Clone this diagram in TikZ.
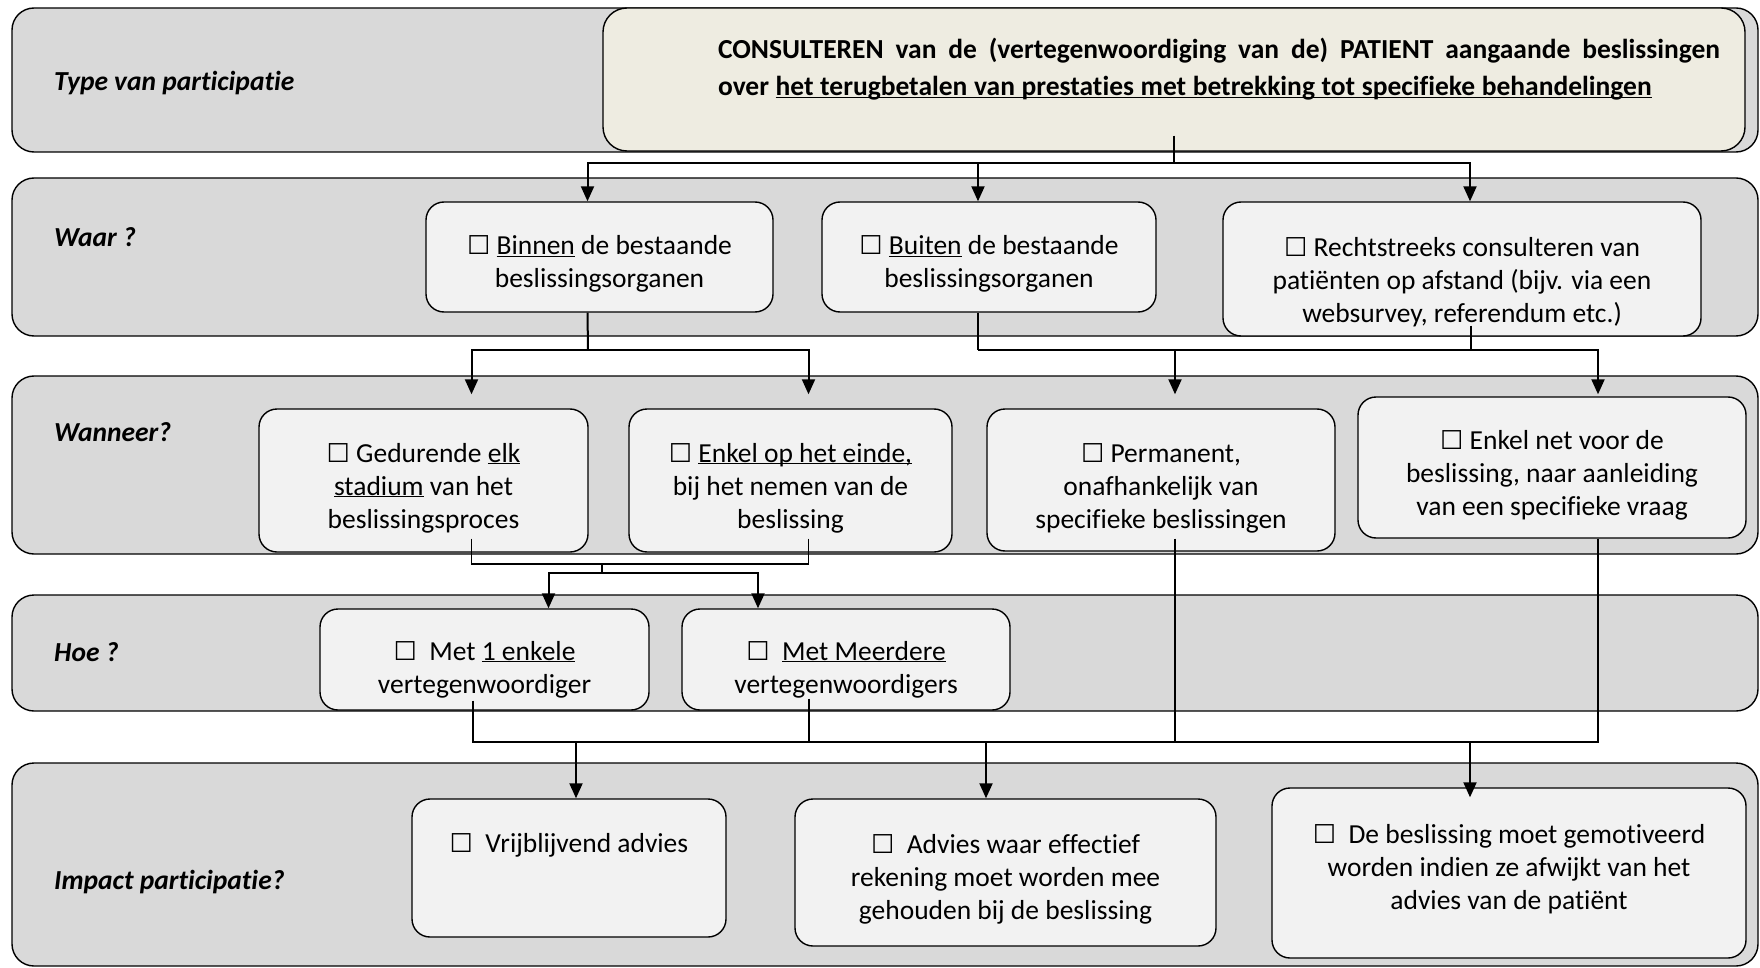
\documentclass[tikz,border=0pt]{standalone}
\usepackage{fontspec}
\setmainfont{Carlito}[Ligatures=NoCommon]
\newfontfamily\symfont{DejaVu Sans}
\usetikzlibrary{positioning,arrows.meta}

\newcommand\cb{{\symfont\fontsize{26}{26}\selectfont ☐}}
\newcommand\lijn[1]{\underline{\smash{#1}}}

\begin{document}
\begin{tikzpicture}[x=1pt,y=-1pt,
  band/.style={draw, line width=1.4pt, fill=bandgray, rounded corners=22pt},
  box/.style={draw, line width=1.4pt, fill=boxgray, rounded corners=18pt, inner sep=0pt},
  boxtext/.style={align=center, inner sep=0pt, font={\fontsize{27.5}{33}\selectfont}},
  lbl/.style={anchor=west, inner sep=0pt, font={\fontsize{27.5}{32}\selectfont\bfseries\itshape}},
  conn/.style={line width=2pt},
  stub/.style={line width=1.2pt},
  arr/.style={line width=2pt, -{Triangle[length=15pt,width=13pt]}}]
  % colors close to the figure
  \definecolor{bandgray}{RGB}{217,217,217}
  \definecolor{boxgray}{RGB}{242,242,242}
  \definecolor{beige}{RGB}{238,236,225}

  \useasboundingbox (0,0) rectangle (1760,968);

  % the five grey bands
  \draw[band] (12,8)   rectangle (1758,152);
  \draw[band] (12,178) rectangle (1758,336);
  \draw[band] (12,376) rectangle (1758,554);
  \draw[band] (12,595) rectangle (1758,711);
  \draw[band] (12,763) rectangle (1758,966);

  % band labels
  \node[lbl] (lbltype)   at (54,83)  {Type van participatie};
  \node[lbl] (lblwaar)   at (54,237) {Waar ?};
  \node[lbl] (lblwann)   at (54,432) {Wanneer?};
  \node[lbl] (lblhoe)    at (54,652) {Hoe ?};
  \node[lbl] (lblimpact) at (54,882) {Impact participatie?};

  % type of participation
  \node[draw, line width=1.4pt, fill=beige, rounded corners=24pt,
    minimum width=1142pt, minimum height=143pt] (consult) at (1174,79.5) {};
  \node[anchor=center, text width=1002pt, align=left, inner sep=0pt,
    font={\fontsize{27.5}{37}\selectfont\bfseries}] (consulttxt) at (1219,68)
    {\makebox[1002pt][s]{\spaceskip=0.226em plus 1fil CONSULTEREN van de (vertegenwoordiging van de) PATIENT aangaande beslissingen}\\
     over\hspace{0.24em}\lijn{\spaceskip=0.24em het terugbetalen van prestaties met betrekking tot specifieke behandelingen}};

  % boxes
  \node[box, minimum width=347pt, minimum height=110pt] (binnen)    at (599.5,257) {};
  \node[box, minimum width=334pt, minimum height=110pt] (buiten)    at (989,257) {};
  \node[box, minimum width=478pt, minimum height=134pt] (recht)     at (1462,269) {};
  \node[box, minimum width=329pt, minimum height=143pt] (gedurende) at (423.5,480.5) {};
  \node[box, minimum width=323pt, minimum height=143pt] (einde)     at (790.5,480.5) {};
  \node[box, minimum width=348pt, minimum height=142pt] (permanent) at (1161,480) {};
  \node[box, minimum width=388pt, minimum height=141pt] (netvoor)   at (1552,467.5) {};
  \node[box, minimum width=329pt, minimum height=101pt] (een)       at (484.5,659.5) {};
  \node[box, minimum width=328pt, minimum height=101pt] (meer)      at (846,659.5) {};
  \node[box, minimum width=314pt, minimum height=138pt] (vrij)      at (569,868) {};
  \node[box, minimum width=421pt, minimum height=147pt] (advies)    at (1005.5,872.5) {};
  \node[box, minimum width=474pt, minimum height=170pt] (gemot)     at (1509,873) {};

  % box texts
  \node[boxtext] (binnentxt) at (599.5,264)
    {\cb\ \lijn{Binnen} de bestaande\\beslissingsorganen};
  \node[boxtext] (buitentxt) at (989,264)
    {\cb\ \lijn{Buiten} de bestaande\\beslissingsorganen};
  \node[boxtext] (rechttxt) at (1462,282)
    {\cb\ Rechtstreeks consulteren van\\patiënten op afstand (bijv. via een\\websurvey, referendum etc.)};
  \node[boxtext] (gedurendetxt) at (423.5,488)
    {\cb\ Gedurende \lijn{elk}\\\lijn{stadium} van het\\beslissingsproces};
  \node[boxtext] (eindetxt) at (790.5,488)
    {\cb\ \lijn{Enkel op het einde,}\\bij het nemen van de\\beslissing};
  \node[boxtext] (permanenttxt) at (1161,488)
    {\cb\ Permanent,\\onafhankelijk van\\specifieke beslissingen};
  \node[boxtext] (netvoortxt) at (1552,475.5)
    {\cb\ Enkel net voor de\\beslissing, naar aanleiding\\van een specifieke vraag};
  \node[boxtext] (eentxt) at (484.5,669.5)
    {\cb\ \ Met \lijn{1 enkele}\\vertegenwoordiger};
  \node[boxtext] (meertxt) at (846,669.5)
    {\cb\ \ \lijn{Met Meerdere}\\vertegenwoordigers};
  \node[boxtext] (vrijtxt) at (569,845)
    {\cb\ \ Vrijblijvend advies};
  \node[boxtext] (adviestxt) at (1005.5,879.5)
    {\cb\ \ Advies waar effectief\\rekening moet worden mee\\gehouden bij de beslissing};
  \node[boxtext] (gemottxt) at (1509,869.5)
    {\cb\ \ De beslissing moet gemotiveerd\\worden indien ze afwijkt van het\\advies van de patiënt};

  % junctions
  \coordinate (t1)  at (1174,163);
  \coordinate (t2a) at (588,350);
  \coordinate (t2b) at (978,350);
  \coordinate (t2c) at (1471,350);
  \coordinate (t3a) at (602,564);
  \coordinate (t3b) at (602,573);
  \coordinate (t4)  at (986,742);

  % type -> waar
  \draw[conn] ([yshift=16pt]consult.south) -- (t1);
  \draw[arr] (t1) -| ([xshift=-12pt]binnen.north);
  \draw[arr] (t1) -| ([xshift=-11pt]buiten.north);
  \draw[arr] (t1) -| ([xshift=8pt]recht.north);

  % waar -> wanneer
  \draw[conn] ([xshift=-12pt]binnen.south) -- (t2a);
  \draw[arr] (t2a) -| ([xshift=48pt,yshift=14pt]gedurende.north);
  \draw[arr] (t2a) -| ([xshift=18pt,yshift=14pt]einde.north);
  \draw[conn] ([xshift=-11pt]buiten.south) -- (t2b);
  \draw[stub] ([xshift=9pt,yshift=11pt]recht.south) -- (t2c);
  \draw[arr] (t2b) -| ([xshift=14pt,yshift=14pt]permanent.north);
  \draw[arr] (t2b) -| ([xshift=46pt,yshift=2pt]netvoor.north);

  % wanneer -> hoe
  \draw[stub] ([xshift=48pt,yshift=14pt]gedurende.south) |- (t3a);
  \draw[stub] ([xshift=18pt,yshift=14pt]einde.south) |- (t3a);
  \draw[conn] (t3a) -- (t3b);
  \draw[arr] (t3b) -| ([xshift=64pt]een.north);
  \draw[arr] (t3b) -| ([xshift=-88pt]meer.north);

  % hoe / wanneer -> impact
  \draw[conn] ([xshift=-12pt,yshift=10pt]een.south) |- (t4);
  \draw[stub] ([xshift=-37pt,yshift=12pt]meer.south) |- (t4);
  \draw[stub] ([xshift=14pt,yshift=13pt]permanent.south) |- (t4);
  \draw[conn] ([xshift=46pt]netvoor.south) |- (t4);
  \draw[arr] (t4) -| ([xshift=7pt]vrij.north);
  \draw[arr] (t4) -- ([xshift=-19.5pt]advies.north);
  \draw[arr] (t4) -| ([xshift=-39pt,yshift=-10pt]gemot.north);
\end{tikzpicture}
\end{document}
